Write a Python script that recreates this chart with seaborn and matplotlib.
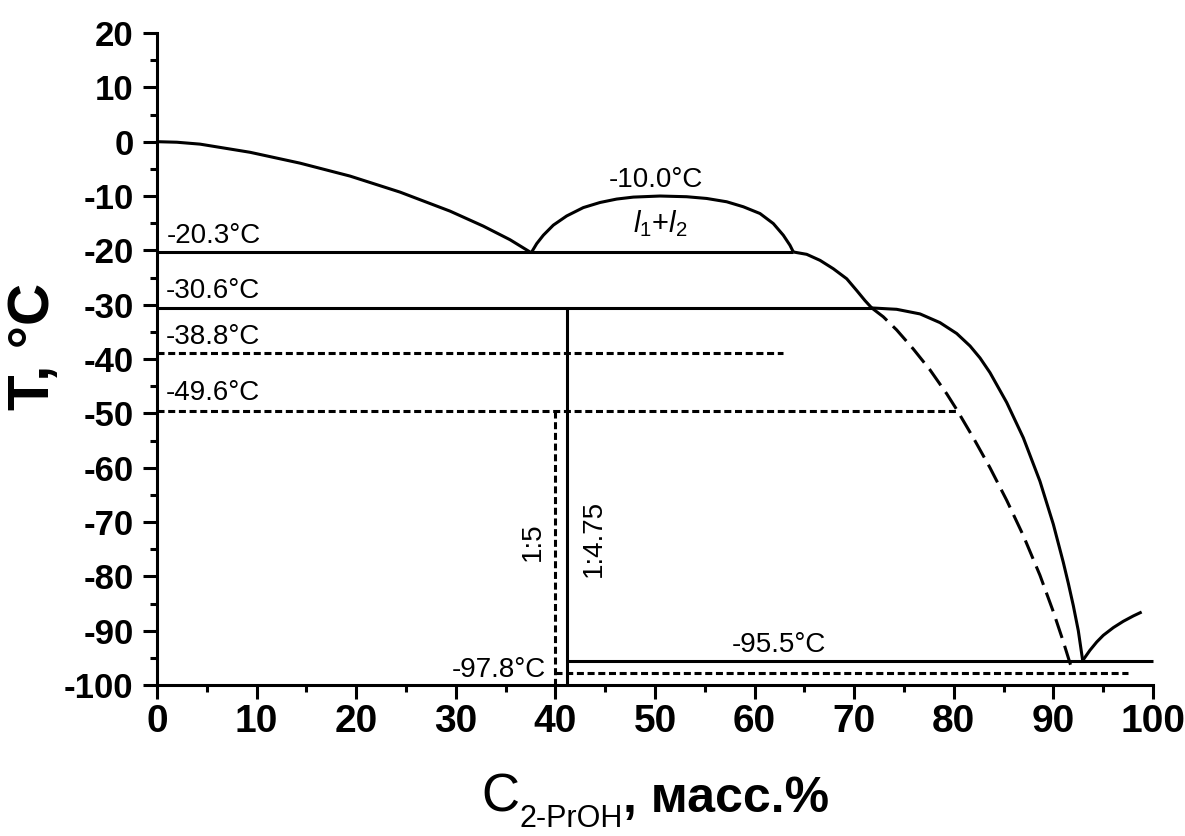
import matplotlib
matplotlib.use("Agg")
import numpy as np
import pandas as pd
import matplotlib.pyplot as plt
import seaborn as sns
from matplotlib.ticker import MultipleLocator

# ---------------- data ----------------
# ice liquidus
ice_x = [0, 2.0, 4.32, 9.34, 14.36, 19.38, 24.40, 29.42, 32.76, 35.44, 37.45]
ice_y = [0, -0.1, -0.45, -1.95, -3.95, -6.33, -9.28, -12.78, -15.54, -18.04, -20.3]
# liquid-liquid dome (l1 + l2)
dome_x = [37.62, 38.12, 38.79, 39.79, 41.13, 42.80, 44.48, 46.15, 47.82, 50.50,
          53.18, 55.19, 57.20, 58.87, 60.54, 61.88, 62.88, 63.55, 63.89]
dome_y = [-20.3, -18.77, -17.21, -15.36, -13.67, -12.13, -11.19, -10.56, -10.20, -10.0,
          -10.13, -10.45, -11.06, -11.98, -13.22, -15.07, -17.21, -19.06, -20.3]
# branch between -20.3 and -30.6
br3_x = [63.89, 65.23, 66.57, 67.90, 69.25, 70.25, 71.08, 71.76]
br3_y = [-20.3, -20.73, -21.84, -23.38, -25.23, -27.39, -29.24, -30.6]
# stable branch down to the eutectic
br4_x = [71.76, 74.26, 76.61, 78.61, 80.29, 81.63, 82.63, 83.63, 85.31, 86.98,
         88.65, 89.99, 90.99, 91.5, 92.0, 92.5, 92.94]
br4_y = [-30.6, -30.85, -31.7, -33.3, -35.3, -37.6, -39.8, -42.5, -48.0, -54.5,
         -62.5, -70.4, -77.4, -81.3, -85.4, -90.0, -95.5]
# metastable (dashed) branch
meta_x = [71.76, 72.92, 74.26, 75.93, 77.61, 79.29, 80.29, 81.96, 83.63, 85.31,
          86.98, 88.65, 89.99, 90.99, 91.67, 92.0]
meta_y = [-30.6, -32.23, -34.64, -38.15, -42.0, -46.4, -49.3, -54.5, -60.0, -66.0,
          -72.5, -79.8, -86.5, -92.0, -96.0, -97.8]
# alcohol-rich branch
alc_x = [92.94, 93.67, 94.35, 95.01, 96.02, 97.02, 98.02, 98.86]
alc_y = [-95.5, -93.6, -92.08, -90.85, -89.43, -88.27, -87.29, -86.56]

# isotherms
iso_T = [-20.3, -30.6, -38.8, -49.6, -95.5, -97.8]
iso_x0 = [0, 0, 0, 0, 41.2, 40.0]
iso_x1 = [63.89, 71.76, 62.9, 80.29, 100, 97.5]
iso_dashed = [False, False, True, True, False, True]
iso_labels = ["-20.3°C", "-30.6°C", "-38.8°C", "-49.6°C", "-95.5°C", "-97.8°C"]

# compound composition lines
ratio_x = [41.2, 40.0]
ratio_top = [-30.6, -49.6]
ratio_dashed = [False, True]
ratio_labels = ["1:4.75", "1:5"]

xticks = [0, 10, 20, 30, 40, 50, 60, 70, 80, 90, 100]
yticks = [20, 10, 0, -10, -20, -30, -40, -50, -60, -70, -80, -90, -100]

# ---------------- style ----------------
sns.set_style("ticks")
plt.rcParams["font.family"] = ["Liberation Sans", "DejaVu Sans"]
plt.rcParams.update({
    "axes.unicode_minus": False,
    "text.color": "black",
    "axes.labelcolor": "black",
    "axes.edgecolor": "black",
    "xtick.color": "black",
    "ytick.color": "black",
    "mathtext.fontset": "custom",
    "mathtext.rm": "Liberation Sans",
    "mathtext.it": "Liberation Sans:italic",
    "mathtext.bf": "Liberation Sans:bold",
})

LW = 2.2
SHORT = (0, (2.3, 1.2))
LONG = (0, (6.5, 2.7))

fig = plt.figure(figsize=(11.85, 8.36), dpi=100)
ax = fig.add_axes([0.1325, 0.1806, 0.8405, 0.7799])


def draw(x, y, ls="-"):
    df = pd.DataFrame({"x": x, "y": y})
    sns.lineplot(data=df, x="x", y="y", sort=False, estimator=None,
                 color="black", lw=LW, ax=ax)
    ln = ax.lines[-1]
    ln.set_linestyle(ls)
    ln.set_clip_on(False)
    ln.set_solid_capstyle("butt")
    ln.set_dash_capstyle("butt")
    ln.set_solid_joinstyle("round")


draw(ice_x, ice_y)
draw(dome_x, dome_y)
draw(br3_x, br3_y)
draw(br4_x, br4_y)
draw(meta_x, meta_y, LONG)
draw(alc_x, alc_y)

for T, a, b, d in zip(iso_T, iso_x0, iso_x1, iso_dashed):
    draw([a, b], [T, T], SHORT if d else "-")

for xv, top, d in zip(ratio_x, ratio_top, ratio_dashed):
    draw([xv, xv], [top, -100], SHORT if d else "-")

# ---------------- annotations ----------------
FS = 20
for lab, xx, yy, ha in [(iso_labels[0], 0.97, -18.65, "left"),
                        (iso_labels[1], 0.9, -28.85, "left"),
                        (iso_labels[2], 0.9, -37.3, "left"),
                        (iso_labels[3], 0.9, -47.6, "left"),
                        (iso_labels[4], 62.4, -94.0, "center"),
                        (iso_labels[5], 39.1, -98.6, "right")]:
    ax.text(xx, yy, lab, fontsize=FS, ha=ha, va="baseline", color="black")

ax.text(50.05, -8.4, "-10.0°C", fontsize=FS, ha="center", va="baseline", color="black")
ax.text(50.5, -16.6, r"$\mathit{l}_{\mathregular{1}}\mathregular{+}\mathit{l}_{\mathregular{2}}$",
        fontsize=21, ha="center", va="baseline", color="black")

ax.text(43.9, -73.0, ratio_labels[0], fontsize=FS, rotation=90, ha="center", va="center")
ax.text(37.7, -73.6, ratio_labels[1], fontsize=FS, rotation=90, ha="center", va="center")

# ---------------- axes ----------------
ax.set_xlim(0, 100)
ax.set_ylim(-100, 20)
ax.set_xticks(xticks)
ax.set_yticks(yticks)
ax.xaxis.set_minor_locator(MultipleLocator(5))
ax.yaxis.set_minor_locator(MultipleLocator(5))
sns.despine(ax=ax)
for s in ["left", "bottom"]:
    ax.spines[s].set_linewidth(LW)
    ax.spines[s].set_color("black")
ax.tick_params(axis="both", which="major", direction="out", length=10, width=LW, color="black")
ax.tick_params(axis="both", which="minor", direction="out", length=5, width=LW, color="black")
ax.tick_params(axis="x", which="major", labelsize=28, pad=4, labelcolor="black")
ax.tick_params(axis="y", which="major", labelsize=25, pad=7, labelcolor="black")
for t in ax.get_xticklabels() + ax.get_yticklabels():
    t.set_fontweight("bold")
ax.set_xlabel("")
ax.set_ylabel("")

fig.text(0.029, 0.586, "T, °C", rotation=90, ha="center", va="center",
         fontsize=42, fontweight="bold", color="black")

# x label built from pieces: C + subscript + ", масс.%"
fig.canvas.draw()
r = fig.canvas.get_renderer()
pieces = [("C", 38, "normal", 0), ("2-PrOH", 22, "normal", -15), (", масс.%", 36, "bold", 0)]
texts = []
widths = []
for s, fs, fw, dy in pieces:
    t = fig.text(0, 0, s, fontsize=fs, fontweight=fw, ha="left", va="baseline", color="black")
    texts.append((t, dy))
    widths.append(t.get_window_extent(r).width)
W = fig.get_figwidth() * fig.dpi
H = fig.get_figheight() * fig.dpi
center_px = (157 + 1153) / 2
x_px = center_px - sum(widths) / 2
base_px = 836 - 812
for (t, dy), w in zip(texts, widths):
    t.set_position((x_px / W, (base_px + dy) / H))
    x_px += w

fig.savefig("out.png", dpi=100, facecolor="white")
